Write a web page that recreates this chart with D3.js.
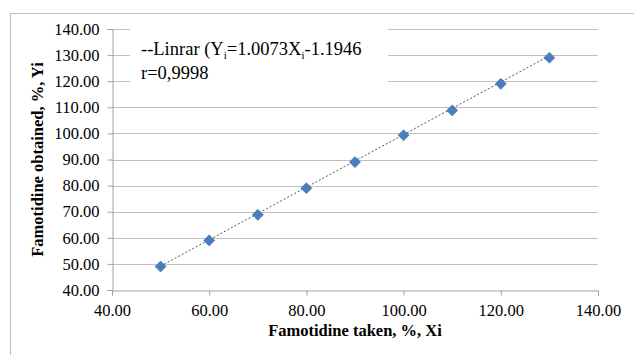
<!DOCTYPE html>
<html lang="en">
<head>
    <meta charset="UTF-8">
    <title>Famotidine linearity</title>
    <style>
        body {
            margin: 0;
            background: #fff;
        }
        svg text {
            font-family: "Liberation Serif", "Times New Roman", serif;
            fill: #000;
        }
    </style>
</head>
<body>
    <div id="chart"></div>

    <script src="https://cdnjs.cloudflare.com/ajax/libs/d3/7.8.5/d3.min.js"></script>
    <script>
        // values
        const taken = [50, 60, 70, 80, 90, 100, 110, 120, 130];
        const obtained = [49.0, 59.0, 68.8, 79.0, 89.0, 99.3, 108.8, 119.0, 129.0];
        const xTicks = [40, 60, 80, 100, 120, 140];
        const yTicks = [40, 50, 60, 70, 80, 90, 100, 110, 120, 130, 140];
        const slope = 1.0073;
        const intercept = -1.1946;

        const width = 634, height = 355;
        const margin = { left: 112, right: 36, top: 29, bottom: 65 };
        const serif = '"Liberation Serif", "Times New Roman", serif';

        const svg = d3.select("#chart").append("svg")
            .attr("width", width)
            .attr("height", height);

        // outer chart frame (right and bottom fall off the picture)
        svg.append("rect")
            .attr("x", 10.5).attr("y", 13.5)
            .attr("width", width).attr("height", height)
            .attr("fill", "none")
            .attr("stroke", "#bdbdbd");

        const x = d3.scaleLinear().domain([40, 140]).range([margin.left, width - margin.right]);
        const y = d3.scaleLinear().domain([40, 140]).range([height - margin.bottom, margin.top]);

        // gridlines
        svg.append("g")
            .selectAll("line")
            .data(yTicks.slice(1))
            .join("line")
            .attr("x1", x(40)).attr("x2", x(140))
            .attr("y1", d => Math.round(y(d)) + 0.5)
            .attr("y2", d => Math.round(y(d)) + 0.5)
            .attr("stroke", "#c0c0c0");

        // y axis
        const yAxis = svg.append("g")
            .attr("transform", `translate(${Math.round(x(40)) + 0.5},0)`)
            .call(d3.axisLeft(y).tickValues(yTicks).tickFormat(d3.format(".2f")).tickSize(5).tickPadding(8));
        yAxis.select(".domain").attr("stroke", "#a0a0a0");
        yAxis.selectAll(".tick line").attr("stroke", "#a0a0a0");
        yAxis.selectAll("text")
            .style("font-family", serif)
            .style("font-size", "16.5px")
            .attr("fill", "#000");

        // x axis
        const xAxis = svg.append("g")
            .attr("transform", `translate(0,${Math.round(y(40)) + 0.5})`)
            .call(d3.axisBottom(x).tickValues(xTicks).tickFormat(d3.format(".2f")).tickSize(5).tickPadding(9));
        xAxis.select(".domain").attr("stroke", "#a0a0a0");
        xAxis.selectAll(".tick line").attr("stroke", "#a0a0a0");
        xAxis.selectAll("text")
            .style("font-family", serif)
            .style("font-size", "16.5px")
            .attr("fill", "#000");

        // label box hides the gridlines behind it
        svg.append("rect")
            .attr("x", 130).attr("y", 22)
            .attr("width", 258).attr("height", 72)
            .attr("fill", "#fff");

        const eq = svg.append("text")
            .attr("x", 141).attr("y", 55)
            .style("font-size", "18.5px");
        eq.append("tspan").text("--Linrar (Y");
        eq.append("tspan").attr("dy", 4).style("font-size", "11px").text("i");
        eq.append("tspan").attr("dy", -4).text("=" + slope.toFixed(4) + "X");
        eq.append("tspan").attr("dy", 4).style("font-size", "11px").text("i");
        eq.append("tspan").attr("dy", -4).text(intercept.toFixed(4));

        svg.append("text")
            .attr("x", 141).attr("y", 79)
            .style("font-size", "18.5px")
            .text("r=0,9998");

        // trend line
        const ext = d3.extent(taken);
        svg.append("line")
            .attr("x1", x(ext[0])).attr("y1", y(slope * ext[0] + intercept))
            .attr("x2", x(ext[1])).attr("y2", y(slope * ext[1] + intercept))
            .attr("stroke", "#555")
            .attr("stroke-width", 1)
            .attr("stroke-dasharray", "2,2");

        // points
        svg.append("g")
            .selectAll("path")
            .data(taken.map((t, i) => [t, obtained[i]]))
            .join("path")
            .attr("d", d3.symbol().type(d3.symbolSquare).size(62))
            .attr("transform", d => `translate(${x(d[0])},${y(d[1])}) rotate(45)`)
            .attr("fill", "#4a7ebb")
            .attr("stroke", "#3f6fa8")
            .attr("stroke-width", 0.5);

        // axis titles
        svg.append("text")
            .attr("x", (x(40) + x(140)) / 2)
            .attr("y", 336)
            .attr("text-anchor", "middle")
            .style("font-size", "16.5px")
            .style("font-weight", "bold")
            .text("Famotidine taken, %, Xi");

        svg.append("text")
            .attr("transform", `translate(43,${(y(40) + y(140)) / 2}) rotate(-90)`)
            .attr("text-anchor", "middle")
            .style("font-size", "16.5px")
            .style("font-weight", "bold")
            .text("Famotidine obtained, %, Yi");
    </script>
</body>
</html>
